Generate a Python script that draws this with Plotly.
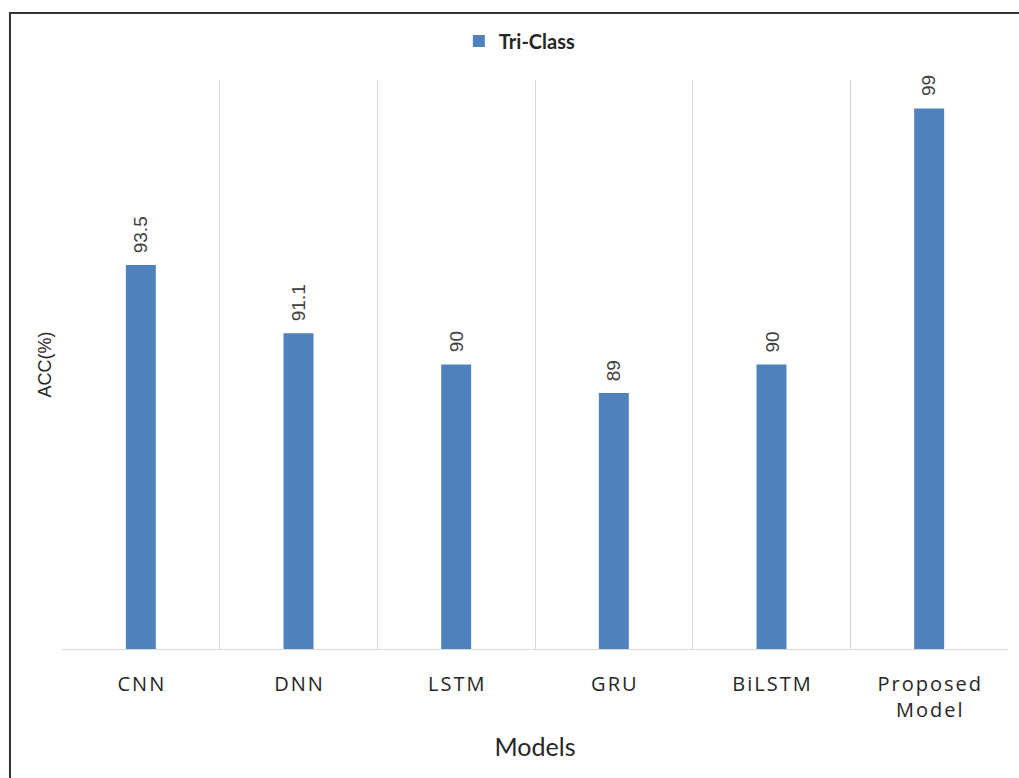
import plotly.graph_objects as go

# Accuracy of each model on the three-class task
models = ["CNN", "DNN", "LSTM", "GRU", "BiLSTM", "Proposed\nModel"]
acc = [93.5, 91.1, 90, 89, 90, 99]
series_name = "Tri-Class"

bar_color = "#4f81bd"
grid_color = "#d9d9d9"
text_color = "#262626"

# Category labels are drawn slightly letter-spaced (hair spaces between letters)
HAIR = "\u200a"


def spaced(label):
    return "<br>".join(HAIR.join(line) for line in label.split("\n"))


x_labels = [spaced(m) for m in models]

fig = go.Figure()
fig.add_trace(go.Bar(
    x=x_labels,
    y=acc,
    name=series_name,
    marker=dict(color=bar_color, line=dict(width=0)),
    showlegend=True,
))

# Value labels above each bar, rotated
for xl, v in zip(x_labels, acc):
    fig.add_annotation(
        x=xl, y=v, xref="x", yref="y",
        text=f"{v:g}",
        textangle=-90,
        showarrow=False,
        yanchor="bottom",
        yshift=10,
        font=dict(family="Liberation Sans", size=19, color="#404040"),
    )

fig.update_layout(
    width=1019,
    height=778,
    margin=dict(l=62, r=11, t=80, b=129),
    paper_bgcolor="white",
    plot_bgcolor="white",
    bargap=0.81,
    showlegend=True,
    legend=dict(
        orientation="h",
        x=0.484, xanchor="center",
        y=1.0685, yanchor="middle",
        font=dict(family="Lato", size=20, color=text_color, weight="bold"),
        itemwidth=30,
    ),
    xaxis=dict(
        type="category",
        tickson="boundaries",
        showgrid=True,
        gridcolor=grid_color,
        gridwidth=1,
        showline=True,
        linecolor=grid_color,
        linewidth=1,
        ticks="",
        ticklabelstandoff=17,
        tickfont=dict(family="Open Sans", size=20, color=text_color),
        title=dict(text="Models", font=dict(family="Lato", size=25, color=text_color), standoff=16),
        zeroline=False,
    ),
    yaxis=dict(
        range=[80, 100],
        showgrid=False,
        showticklabels=False,
        ticks="",
        zeroline=False,
        showline=False,
        title=dict(text="ACC(%)", font=dict(family="Liberation Sans", size=18, color=text_color), standoff=4),
    ),
    shapes=[
        dict(
            type="rect", xref="paper", yref="paper",
            x0=-0.055, x1=1.05, y0=-0.4, y1=1.1178,
            line=dict(color="#333333", width=2),
            fillcolor="rgba(0,0,0,0)",
            layer="above",
        )
    ],
)

fig.write_html("out.html")
